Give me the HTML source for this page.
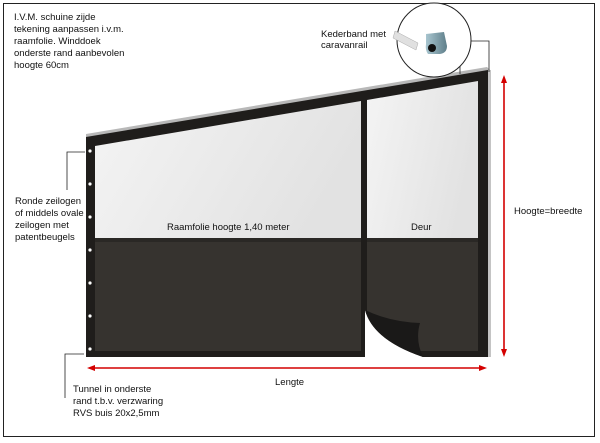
<!DOCTYPE html>
<html><head><meta charset="utf-8"><style>
html,body{margin:0;padding:0;background:#fff;}
svg{display:block;}
text{font-family:"Liberation Sans",Arial,sans-serif;font-size:9.5px;fill:#111;}
</style></head><body>
<svg width="600" height="443" viewBox="0 0 600 443" xmlns="http://www.w3.org/2000/svg">
<defs>
<linearGradient id="win" x1="0" y1="0" x2="1" y2="0.3">
<stop offset="0" stop-color="#f4f4f4"/><stop offset="1" stop-color="#e2e2e2"/></linearGradient>
<linearGradient id="lens" x1="0" y1="0" x2="1" y2="0">
<stop offset="0" stop-color="#a9c6d0"/><stop offset="1" stop-color="#5f7f8a"/></linearGradient>
</defs>
<rect x="3.5" y="3.5" width="591" height="433" fill="#fff" stroke="#222" stroke-width="1"/>
<polygon points="86,134 487,67 490,70 86,138" fill="#b8b8b8"/>
<polygon points="86,137 488,70 488,357 86,357" fill="#1f1d1b"/>
<rect x="488" y="70" width="3" height="287" fill="#c4c4c4"/>
<polygon points="95,146 361,101 361,238 95,238" fill="url(#win)"/>
<polygon points="367,100 478,81 478,238 367,238" fill="url(#win)"/>
<rect x="95" y="242" width="266" height="109" fill="#36332f"/>
<rect x="367" y="242" width="111" height="109" fill="#36332f"/>
<rect x="95" y="238" width="266" height="4" fill="#2a2825"/>
<rect x="367" y="238" width="111" height="4" fill="#2a2825"/>
<path d="M365,310 Q373,340 423,357 L365,357 Z" fill="#fff"/>
<path d="M365,310 Q373,340 423,357 Q415,340 420,323 Q390,322 365,310 Z" fill="#1a1918"/>
<g fill="#fff"><circle cx="90" cy="151" r="1.6"/><circle cx="90" cy="184" r="1.6"/><circle cx="90" cy="217" r="1.6"/><circle cx="90" cy="250" r="1.6"/><circle cx="90" cy="283" r="1.6"/><circle cx="90" cy="316" r="1.6"/><circle cx="90" cy="349" r="1.6"/></g>
<polyline points="67,190 67,152 85,152" fill="none" stroke="#222" stroke-width="0.8"/>
<polyline points="65,398 65,354 84,354" fill="none" stroke="#222" stroke-width="0.8"/>
<polyline points="455,41 489,41 489,72" fill="none" stroke="#222" stroke-width="0.8"/>
<line x1="460" y1="41" x2="460" y2="74" stroke="#222" stroke-width="0.8"/>
<circle cx="434" cy="40" r="37" fill="#fff" stroke="#222" stroke-width="1"/>
<polygon points="395,31 418,43 416,50 393,38" fill="#e0e0e0" stroke="#aaa" stroke-width="0.5"/>
<path d="M426,34 L444,32 L447,46 Q447,53 440,54 L428,54 Q425,50 426,44 Z" fill="url(#lens)"/>
<circle cx="432" cy="48" r="4" fill="#111"/>
<g stroke="#d40000" stroke-width="1.6" fill="#d40000">
<line x1="92" y1="368" x2="482" y2="368"/>
<polygon points="87,368 95,365 95,371" stroke="none"/>
<polygon points="487,368 479,365 479,371" stroke="none"/>
<line x1="504" y1="81" x2="504" y2="352"/>
<polygon points="504,75 501,83 507,83" stroke="none"/>
<polygon points="504,357 501,349 507,349" stroke="none"/>
</g>
<text x="14" y="20">I.V.M. schuine zijde</text>
<text x="14" y="32">tekening aanpassen i.v.m.</text>
<text x="14" y="44">raamfolie. Winddoek</text>
<text x="14" y="56">onderste rand aanbevolen</text>
<text x="14" y="68">hoogte 60cm</text>
<text x="321" y="37">Kederband met</text>
<text x="321" y="48">caravanrail</text>
<text x="15" y="204">Ronde zeilogen</text>
<text x="15" y="216">of middels ovale</text>
<text x="15" y="228">zeilogen met</text>
<text x="15" y="240">patentbeugels</text>
<text x="167" y="230">Raamfolie hoogte 1,40 meter</text>
<text x="411" y="230">Deur</text>
<text x="514" y="214">Hoogte=breedte</text>
<text x="275" y="385">Lengte</text>
<text x="73" y="392">Tunnel in onderste</text>
<text x="73" y="404">rand t.b.v. verzwaring</text>
<text x="73" y="416">RVS buis 20x2,5mm</text>
</svg>
</body></html>
